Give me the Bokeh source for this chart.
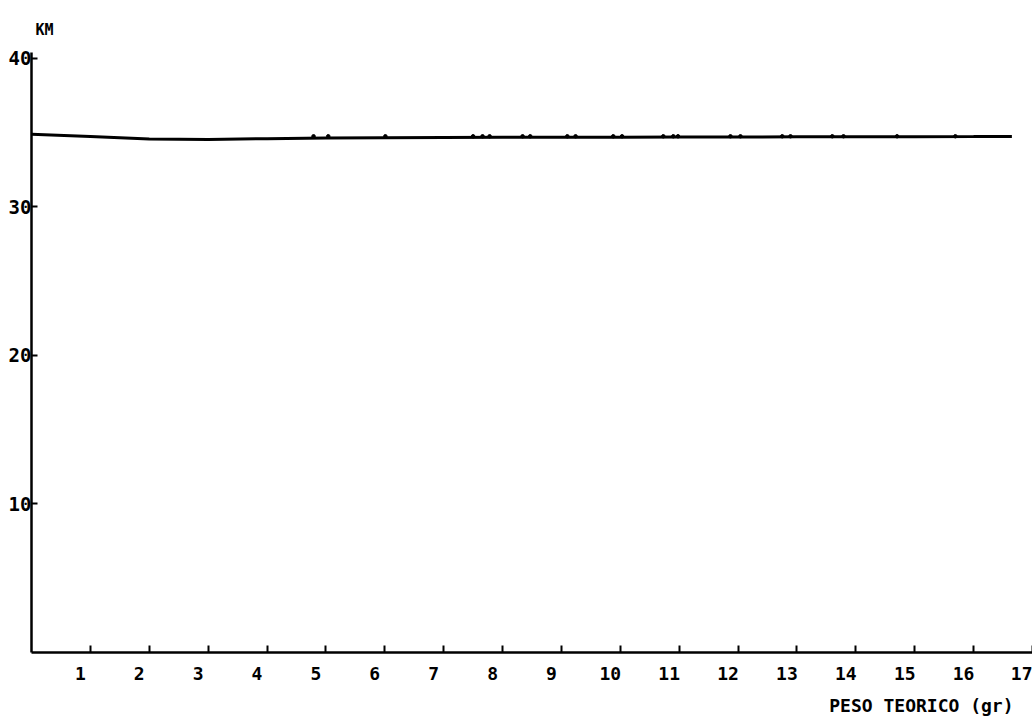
from bokeh.plotting import figure
from bokeh.models import Range1d, FixedTicker, LinearAxis, Title
from bokeh.embed import file_html
from bokeh.resources import INLINE

# Curve of distance (KM) versus theoretical weight (gr)
peso = [0, 1, 2, 3, 4, 5, 6, 7, 8, 9, 10, 11, 12, 13, 14, 15, 16, 16.65]
km = [34.9, 34.74, 34.58, 34.55, 34.6, 34.64, 34.66, 34.68, 34.69, 34.7,
      34.7, 34.71, 34.71, 34.72, 34.72, 34.73, 34.74, 34.75]

# Individual readings along the curve
peso_pts = [4.79, 5.04, 6.01, 7.50, 7.66, 7.78, 8.34, 8.47, 9.10, 9.24, 9.88,
            10.03, 10.73, 10.90, 10.98, 11.87, 12.04, 12.75, 12.89, 13.60,
            13.79, 14.70, 15.69]
km_pts = [34.76] * len(peso_pts)

x_ticks = list(range(1, 18))
y_ticks = [10, 20, 30, 40]

FONT = "DejaVu Sans Mono"
LABEL_SHIFT = 0.17  # tick labels sit a little left of their tick marks

p = figure(width=1032, height=725, output_backend="svg", toolbar_location=None,
           x_range=Range1d(0, 17), y_range=Range1d(0, 40.4),
           x_axis_location=None,
           min_border_left=31, min_border_right=0, min_border_top=52,
           min_border_bottom=71, background_fill_color="white",
           border_fill_color="white", outline_line_color=None)
p.grid.visible = False

p.line(peso, km, line_color="black", line_width=3)
p.scatter(peso_pts, km_pts, size=3.5, color="black")

# Y axis
p.yaxis.ticker = FixedTicker(ticks=y_ticks)
p.yaxis.axis_line_width = 2.5
p.yaxis.axis_line_color = "black"
p.yaxis.major_tick_in = 6
p.yaxis.major_tick_out = 0
p.yaxis.major_tick_line_width = 2
p.yaxis.minor_tick_line_color = None
p.yaxis.major_label_standoff = 0
p.yaxis.major_label_text_font = FONT
p.yaxis.major_label_text_font_style = "bold"
p.yaxis.major_label_text_font_size = "19px"
p.yaxis.major_label_text_color = "black"

# X axis: line and tick marks only
x_axis = LinearAxis(ticker=FixedTicker(ticks=x_ticks),
                    axis_line_width=2.5, axis_line_color="black",
                    major_tick_in=7, major_tick_out=0,
                    major_tick_line_width=2, minor_tick_line_color=None,
                    major_label_overrides={v: "" for v in x_ticks},
                    major_label_text_font_size="1px", major_label_standoff=0)
p.add_layout(x_axis, "below")

# X axis: numbers, placed slightly left of each tick
label_pos = [v - LABEL_SHIFT for v in x_ticks]
x_labels = LinearAxis(ticker=FixedTicker(ticks=label_pos),
                      axis_line_color=None, major_tick_line_color=None,
                      minor_tick_line_color=None, major_tick_in=0,
                      major_tick_out=0, major_label_standoff=14,
                      major_label_overrides={pos: str(v) for pos, v in
                                             zip(label_pos, x_ticks)},
                      major_label_text_font=FONT,
                      major_label_text_font_style="bold",
                      major_label_text_font_size="18px",
                      major_label_text_color="black")
p.add_layout(x_labels, "below")

p.add_layout(Title(text="PESO TEORICO (gr)", align="right", offset=19,
                   standoff=20, text_font=FONT, text_font_style="bold",
                   text_font_size="18px", text_color="black"), "below")

p.add_layout(Title(text="KM", align="left", offset=4, standoff=27,
                   text_font=FONT, text_font_style="bold",
                   text_font_size="15px", text_color="black"), "above")

open("out.html", "w").write(file_html(p, INLINE))
